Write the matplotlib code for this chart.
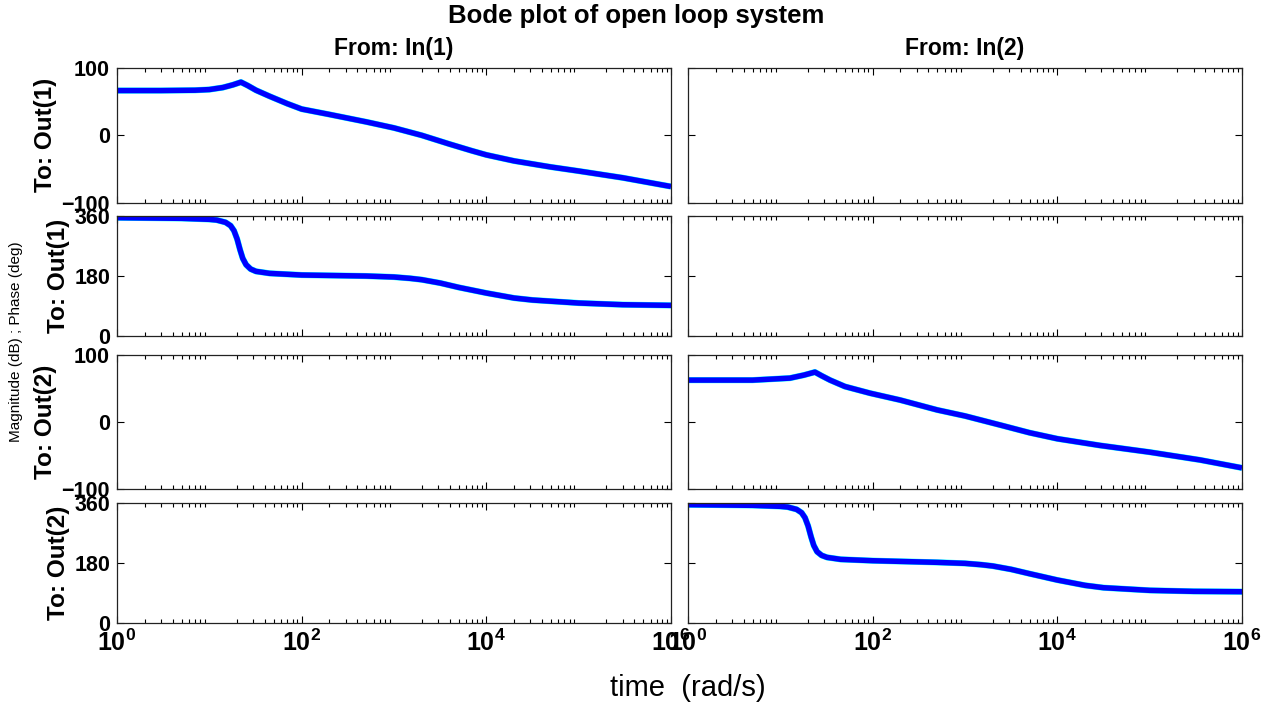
import numpy as np
import matplotlib
matplotlib.use("Agg")
from matplotlib import pyplot as plt
from matplotlib.ticker import FixedLocator, LogLocator, NullFormatter, FixedFormatter

plt.rcParams['font.family'] = ['Liberation Sans', 'DejaVu Sans']
plt.rcParams['mathtext.fontset'] = 'custom'
plt.rcParams['mathtext.bf'] = 'Liberation Sans:bold'
plt.rcParams['mathtext.rm'] = 'Liberation Sans:bold'

# frequency points (rad/s)
w_mag1 = [1, 3, 7, 10, 14, 18, 22, 26, 32, 45, 70, 100, 200, 500, 1000, 2000, 4000, 7000,
          10000, 20000, 50000, 100000, 300000, 1e6]
mag1 = [66.5, 66.5, 67, 68, 71, 75, 79, 74, 67, 58, 47, 39, 31, 20, 11, 0, -13, -23,
        -29, -38, -47, -53, -63, -76]

w_ph1 = [1, 5, 10, 12, 15, 17, 18.5, 20, 21.5, 23, 25, 28, 32, 45, 100, 500, 1000, 1500,
         2000, 3162, 5000, 10000, 20000, 31623, 100000, 300000, 1e6]
ph1 = [354, 352, 349, 347, 340, 330, 315, 290, 258, 232, 213, 200, 193, 187, 182, 179, 176, 172,
       168, 158, 145, 128, 113, 107, 98, 93, 91]

w_mag2 = [1, 5, 12.7, 18, 23.7, 28, 34.6, 50, 93.6, 198, 500, 1000, 2400, 5000, 10000,
          29000, 1e5, 3.5e5, 1e6]
mag2 = [62.5, 62.5, 65.5, 70, 74.5, 69, 62.5, 53, 43, 32.8, 18, 9, -4.5, -16, -25,
        -35, -45, -56.6, -68.5]

w_ph2 = [1, 5, 10, 12, 15, 17, 18.5, 20, 21.5, 23, 25, 28, 32, 45, 100, 500, 1000, 1500,
         2000, 3162, 5000, 10000, 20000, 31623, 100000, 300000, 1e6]
ph2 = [354, 352, 349, 347, 340, 330, 315, 290, 258, 232, 213, 202, 196, 190, 186, 181, 178, 174,
       170, 160, 147, 128, 112, 105, 97, 94, 93]

mag_ticks = [-100, 0, 100]
ph_ticks = [0, 180, 360]
x_decades = [1e0, 1e2, 1e4, 1e6]
x_labels = [r'$\mathbf{10^{0}}$', r'$\mathbf{10^{2}}$', r'$\mathbf{10^{4}}$', r'$\mathbf{10^{6}}$']
row_names = ['To: Out(1)', 'To: Out(1)', 'To: Out(2)', 'To: Out(2)']
col_names = ['From: In(1)', 'From: In(2)']

W, H = 1272, 705
fig = plt.figure(figsize=(W / 100, H / 100), dpi=100)

cols_px = [(117, 671), (688, 1242)]
rows_px = [(68, 202.7), (215.7, 335.7), (355, 489), (502.7, 622.7)]

curves = {
    (0, 0): (w_mag1, mag1),
    (1, 0): (w_ph1, ph1),
    (2, 1): (w_mag2, mag2),
    (3, 1): (w_ph2, ph2),
}

for r, (top, bot) in enumerate(rows_px):
    for c, (left, right) in enumerate(cols_px):
        ax = fig.add_axes([left / W, 1 - bot / H, (right - left) / W, (bot - top) / H])
        ax.set_xscale('log')
        ax.set_xlim(1, 1e6)
        if r % 2 == 0:
            ax.set_ylim(-100, 100)
            ax.set_yticks(mag_ticks)
        else:
            ax.set_ylim(0, 360)
            ax.set_yticks(ph_ticks)
        ax.xaxis.set_major_locator(FixedLocator(x_decades))
        ax.xaxis.set_minor_locator(LogLocator(base=10, subs=np.arange(2, 10), numticks=20))
        ax.xaxis.set_minor_formatter(NullFormatter())
        if r == 3:
            ax.xaxis.set_major_formatter(FixedFormatter(x_labels))
        else:
            ax.xaxis.set_major_formatter(NullFormatter())
        ax.tick_params(which='both', direction='in', top=True, right=True, width=0.8, colors='black')
        ax.tick_params(which='major', length=5)
        ax.tick_params(which='minor', length=3)
        ax.tick_params(axis='x', labelsize=18, pad=5)
        ax.tick_params(axis='y', labelsize=15.5, pad=5)
        for lab in ax.get_yticklabels():
            lab.set_fontweight('bold')
        for s in ax.spines.values():
            s.set_linewidth(0.9)
            s.set_color('#222222')
        if c == 0:
            ax.set_ylabel(row_names[r], fontsize=17.5, fontweight='bold', labelpad=3)
        else:
            ax.set_yticklabels([])
        if r == 0:
            ax.set_title(col_names[c], fontsize=16.5, fontweight='bold', pad=9)
        if (r, c) in curves:
            xs, ys = curves[(r, c)]
            ax.plot(xs, ys, color='cyan', lw=4.4, solid_capstyle='butt')
            ax.plot(xs, ys, color='blue', lw=3.9, solid_capstyle='butt')

fig.text(0.5, 1 - 16 / H, 'Bode plot of open loop system', ha='center', va='center',
         fontsize=18.5, fontweight='bold')
fig.text(688 / W, 1 - 688 / H, 'time  (rad/s)', ha='center', va='center', fontsize=21)
fig.text(16 / W, 1 - 342 / H, 'Magnitude (dB) ; Phase (deg)', ha='center', va='center',
         rotation=90, fontsize=11)

fig.savefig('out.png', dpi=100)
